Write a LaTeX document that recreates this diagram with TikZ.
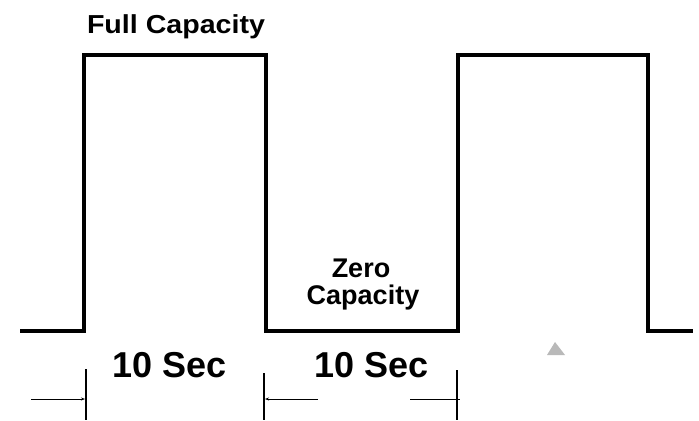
\documentclass[tikz,border=0pt]{standalone}
\usepackage{fontspec}
\setmainfont{Liberation Sans}
\usetikzlibrary{arrows.meta}
\tikzset{
  wave/.style={line width=4bp, line join=miter, line cap=butt},
  tick/.style={line width=1.6bp},
  dim/.style={line width=0.8bp},
  dimarrow/.style={dim, -{Stealth[length=4bp,width=3bp]}},
  lbl/.style={font=\bfseries\fontsize{26bp}{30bp}\selectfont, inner sep=0pt, anchor=base},
  biglbl/.style={font=\bfseries\fontsize{36bp}{40bp}\selectfont, inner sep=0pt, anchor=base},
}
\begin{document}
\begin{tikzpicture}[x=1bp,y=-1bp]
\useasboundingbox (0,0) rectangle (699,420);
% waveform
\coordinate (w0) at (20,331);
\coordinate (w1) at (84,331);
\coordinate (w2) at (84,55);
\coordinate (w3) at (266,55);
\coordinate (w4) at (266,331);
\coordinate (w5) at (458,331);
\coordinate (w6) at (458,55);
\coordinate (w7) at (648,55);
\coordinate (w8) at (648,331);
\coordinate (w9) at (693,331);
\draw[wave] (w0) -- (w1) -- (w2) -- (w3) -- (w4) -- (w5) -- (w6) -- (w7) -- (w8) -- (w9);
% labels
\node[lbl, xscale=1.1] (full) at (176,33) {Full Capacity};
\node[lbl, font=\bfseries\fontsize{27bp}{30bp}\selectfont] (zero) at (361,277) {Zero};
\node[lbl, font=\bfseries\fontsize{27bp}{30bp}\selectfont] (cap) at (363,304) {Capacity};
\node[biglbl] (sec1) at (170,377) {10 Sec};
\node[biglbl] (sec2) at (372,377) {10 Sec};
% ticks
\coordinate (t1a) at (86,369); \coordinate (t1b) at (86,420);
\coordinate (t2a) at (264,373); \coordinate (t2b) at (264,420);
\coordinate (t3a) at (457,370); \coordinate (t3b) at (457,420);
\draw[tick] (t1a) -- (t1b);
\draw[tick] (t2a) -- (t2b);
\draw[tick] (t3a) -- (t3b);
% dimension arrows
\coordinate (a1s) at (31,399); \coordinate (a1e) at (85,399);
\coordinate (a2s) at (318,399); \coordinate (a2e) at (265,399);
\coordinate (a3s) at (410,399); \coordinate (a3e) at (460,399);
\draw[dimarrow] (a1s) -- (a1e);
\draw[dimarrow] (a2s) -- (a2e);
\draw[dim] (a3s) -- (a3e);
% small grey mark
\fill[gray!55] (547,355) -- (555,342) -- (565,355) -- cycle;
\end{tikzpicture}
\end{document}
